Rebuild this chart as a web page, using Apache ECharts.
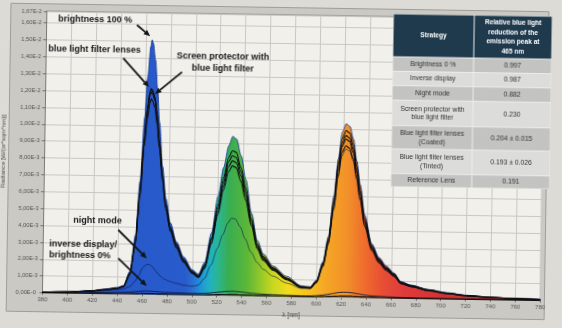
<!DOCTYPE html>
<html>
<head>
<meta charset="utf-8">
<script src="https://cdn.jsdelivr.net/npm/echarts@6/dist/echarts.min.js"></script>
<style>
  html, body { margin: 0; padding: 0; background: #dddbd6; overflow: hidden; }
  #chart { width: 562px; height: 328px; transform: rotate(0.9deg); transform-origin: 50% 50%; }
</style>
</head>
<body>
<div id="chart"></div>
<script>
// Wavelength grid, nm
const wavelengths = [380,400,420,430,440,445,450,454,457,460,462,464,465,466,468,470,472,475,478,482,487,493,500,505,510,515,520,524,528,531,534,538,542,547,552,557,565,576,588,595,600,605,609,613,616,619,622,625,628,631,634,638,644,650,656,662,668,676,690,705,720,740,760,780];

// Spectral radiance, in 1E-3 W/(sr*sqm*nm)
const brightness100 = [0.05,0.08,0.18,0.28,0.38,0.5,1.35,3.5,6.7,10.5,12.9,14.7,15.1,14.9,13.9,12.2,10.2,7.6,5.7,4.25,3.15,2.25,1.5,1.25,1.95,3.7,5.9,7.6,8.9,9.45,9.3,8.3,6.9,4.9,3.3,2.5,1.8,1.2,0.65,0.6,1.0,2.1,3.6,6.0,8.2,9.8,10.3,10.15,9.4,8.1,6.7,4.9,3.2,2.4,1.9,1.5,1.0,0.8,0.55,0.38,0.25,0.15,0.1,0.07];
const referenceLens = [0.045,0.07,0.16,0.25,0.35,0.46,1.25,3.2,6.1,9.3,11.0,12.0,12.2,12.1,11.7,10.7,9.2,7.1,5.4,4.0,3.0,2.1,1.4,1.15,1.8,3.4,5.4,7.0,8.2,8.6,8.5,7.6,6.4,4.6,3.1,2.35,1.7,1.1,0.6,0.56,0.95,2.0,3.45,5.8,7.9,9.4,9.9,9.75,9.05,7.8,6.45,4.7,3.1,2.3,1.8,1.45,0.95,0.77,0.53,0.36,0.24,0.14,0.1,0.07];
const lensesTinted = [0.04,0.065,0.15,0.24,0.34,0.45,1.2,3.1,6.0,9.2,11.0,12.0,12.2,12.05,11.6,10.5,9.0,6.9,5.2,3.85,2.85,2.0,1.32,1.07,1.65,3.15,5.0,6.5,7.65,8.0,7.9,7.1,5.95,4.3,2.9,2.2,1.6,1.05,0.57,0.53,0.9,1.9,3.3,5.5,7.5,8.95,9.4,9.25,8.6,7.4,6.1,4.45,2.95,2.2,1.72,1.38,0.9,0.73,0.5,0.34,0.23,0.13,0.09,0.06];
const lensesCoated = [0.045,0.07,0.16,0.25,0.34,0.45,1.2,3.1,5.95,9.1,10.8,11.8,12.0,11.9,11.5,10.5,9.05,7.0,5.3,3.9,2.95,2.05,1.37,1.1,1.72,3.3,5.2,6.75,7.95,8.3,8.2,7.35,6.15,4.45,3.0,2.28,1.65,1.08,0.58,0.55,0.92,1.95,3.35,5.6,7.7,9.15,9.6,9.45,8.8,7.55,6.25,4.55,3.0,2.25,1.76,1.41,0.92,0.75,0.52,0.35,0.23,0.14,0.09,0.06];
const screenProtector = [0.04,0.065,0.15,0.23,0.32,0.43,1.15,3.0,5.7,8.8,10.4,11.35,11.6,11.5,11.1,10.1,8.7,6.7,5.05,3.75,2.8,1.95,1.3,1.05,1.6,3.05,4.8,6.25,7.35,7.7,7.6,6.8,5.7,4.15,2.8,2.12,1.55,1.0,0.55,0.51,0.86,1.82,3.15,5.3,7.2,8.6,9.0,8.85,8.25,7.1,5.85,4.25,2.85,2.1,1.65,1.32,0.87,0.7,0.48,0.33,0.22,0.13,0.09,0.06];
const nightMode = [0.03,0.05,0.12,0.18,0.25,0.3,0.45,0.75,1.1,1.55,1.72,1.78,1.78,1.76,1.64,1.46,1.27,1.06,0.91,0.79,0.69,0.59,0.52,0.6,1.0,1.8,2.8,3.6,4.3,4.6,4.55,4.1,3.4,2.6,2.0,1.6,1.2,0.8,0.5,0.5,0.85,1.85,3.2,5.2,7.1,8.4,8.8,8.7,8.1,7.0,5.8,4.3,2.8,2.1,1.7,1.3,0.9,0.7,0.48,0.33,0.22,0.13,0.09,0.06];
const inverseDisplay = [0.01,0.02,0.04,0.06,0.08,0.1,0.12,0.15,0.17,0.19,0.2,0.2,0.2,0.2,0.19,0.18,0.17,0.15,0.14,0.13,0.12,0.11,0.1,0.1,0.12,0.15,0.19,0.22,0.25,0.26,0.26,0.24,0.21,0.17,0.14,0.12,0.1,0.08,0.06,0.06,0.08,0.12,0.17,0.22,0.27,0.3,0.31,0.31,0.29,0.26,0.22,0.17,0.12,0.1,0.08,0.07,0.05,0.04,0.03,0.02,0.02,0.01,0.01,0.01];
const brightness0 = [0.01,0.01,0.02,0.02,0.03,0.03,0.03,0.04,0.04,0.05,0.05,0.05,0.05,0.05,0.05,0.05,0.04,0.04,0.04,0.03,0.03,0.03,0.03,0.03,0.03,0.04,0.05,0.06,0.06,0.07,0.07,0.06,0.05,0.05,0.04,0.04,0.03,0.03,0.02,0.02,0.03,0.04,0.05,0.06,0.07,0.08,0.08,0.08,0.08,0.07,0.06,0.05,0.04,0.03,0.03,0.02,0.02,0.02,0.01,0.01,0.01,0.01,0.01,0.01];

// Axis ranges
const xRange = [380, 780, 20];
const yRange = [0, 16.7, 1];

// Summary table
const tableHeader = ['Strategy', 'Relative blue light\nreduction of the\nemission peak at\n465 nm'];
const strategies = ['Brightness 0 %', 'Inverse display', 'Night mode', 'Screen protector with\nblue light filter', 'Blue light filter lenses\n(Coated)', 'Blue light filter lenses\n(Tinted)', 'Reference Lens'];
const reductions = ['0.997', '0.987', '0.882', '0.230', '0.204 \u00b1 0.015', '0.193 \u00b1 0.026', '0.191'];

// Callout labels
const callouts = ['brightness 100 %', 'blue light filter lenses', 'Screen protector with\nblue light filter', 'night mode', 'inverse display/\nbrightness 0%'];

const FONT = '"Liberation Sans", Arial, sans-serif';
const pts = arr => wavelengths.map((w, i) => [w, arr[i]]);

// visible-spectrum colour ramp for the fill under the full-brightness curve
const spectrum = [[380,'#2455c7'],[494,'#285bcb'],[501,'#2a70d4'],[507,'#2094d6'],[514,'#1fb2c3'],[521,'#2bb58f'],[529,'#38ad52'],[544,'#5cb737'],[555,'#93c82a'],[565,'#c8d71f'],[577,'#f1db1d'],[592,'#f7c41f'],[607,'#f5a725'],[624,'#f29029'],[639,'#ee6b2d'],[654,'#e74d35'],[670,'#de3c3b'],[700,'#d43333'],[780,'#c92b2b']];
const fill = new echarts.graphic.LinearGradient(0, 0, 1, 0,
  spectrum.map(([nm, c]) => ({ offset: (nm - 380) / 400, color: c })));

function fmtY(v) {
  const r = Math.round(v * 100) / 100;
  if (r === 0) return '0,00E-0 ';
  if (r >= 10) return (r / 10).toFixed(2).replace('.', ',') + 'E-2';
  return r.toFixed(2).replace('.', ',') + 'E-3';
}

const lineSeries = (name, arr, color, width, z) => ({
  type: 'line', name, data: pts(arr), smooth: 0.3, smoothMonotone: 'x',
  symbol: 'none', silent: true, z,
  lineStyle: { color, width }
});

// ---- overlay: table, callouts, arrows ----
const overlay = [];
// panel behind the plot
overlay.push({ type: 'rect', z: -10, shape: { x: 8.5, y: 7.5, width: 538, height: 308 },
  style: { fill: '#cbc9c3', stroke: '#9f9d98', lineWidth: 1 } });

const TX = [391, 472, 550];
const TY = [12, 55, 69.4, 83.7, 98.2, 123.7, 147, 171.7, 185];
overlay.push({ type: 'rect', z: 100, shape: { x: TX[0], y: TY[0], width: TX[2] - TX[0], height: TY[8] - TY[0] },
  style: { fill: '#ececea' } });
for (let r = 0; r < 8; r++) {
  for (let c = 0; c < 2; c++) {
    const x = TX[c] + 0.5, y = TY[r] + 0.5, w = TX[c + 1] - TX[c] - 1, h = TY[r + 1] - TY[r] - 1;
    const bg = r === 0 ? '#1f3a4d' : (r % 2 === 1 ? '#c3c3c1' : '#dcdcda');
    overlay.push({ type: 'rect', z: 101, shape: { x, y, width: w, height: h }, style: { fill: bg } });
    const txt = r === 0 ? tableHeader[c] : (c === 0 ? strategies[r - 1] : reductions[r - 1]);
    overlay.push({ type: 'text', z: 102, x: x + w / 2, y: y + h / 2,
      style: { text: txt, align: 'center', verticalAlign: 'middle', textAlign: 'center', textVerticalAlign: 'middle',
        fontFamily: FONT, fontSize: r === 0 ? 6.6 : 6.8, fontWeight: r === 0 ? 'bold' : 'normal',
        lineHeight: r === 0 ? 9.6 : 8.6, fill: r === 0 ? '#ffffff' : '#333333' } });
  }
}

const calloutPos = [
  { x: 56, y: 22.9, align: 'left', lh: 11 },
  { x: 46.5, y: 53, align: 'left', lh: 11 },
  { x: 221.3, y: 63.4, align: 'center', lh: 11.6 },
  { x: 74.2, y: 223.8, align: 'left', lh: 11 },
  { x: 50.6, y: 253.1, align: 'left', lh: 11 }
];
callouts.forEach((t, i) => {
  const p = calloutPos[i];
  overlay.push({ type: 'text', z: 110, x: p.x, y: p.y,
    style: { text: t, align: p.align, verticalAlign: 'middle', textAlign: p.align, textVerticalAlign: 'middle',
      fontFamily: FONT, fontSize: 9, fontWeight: 'bold', lineHeight: p.lh, fill: '#161616' } });
});

function arrow(x1, y1, x2, y2) {
  const a = Math.atan2(y2 - y1, x2 - x1), L = 6.5, W = 2.8;
  const bx = x2 - L * Math.cos(a), by = y2 - L * Math.sin(a);
  overlay.push({ type: 'line', z: 110, shape: { x1, y1, x2: bx, y2: by }, style: { stroke: '#141414', lineWidth: 1.8 } });
  overlay.push({ type: 'polygon', z: 110, shape: { points: [[x2, y2],
    [bx - W * Math.sin(a), by + W * Math.cos(a)], [bx + W * Math.sin(a), by - W * Math.cos(a)]] },
    style: { fill: '#141414' } });
}
arrow(134.8, 27.3, 148.2, 38.3);
arrow(121.6, 60.6, 147.8, 89.1);
arrow(180.6, 73.6, 153.9, 96);
arrow(119.3, 232.5, 148.2, 260.4);
arrow(119.8, 260.9, 148.6, 288.1);

const chart = echarts.init(document.getElementById('chart'), null, { renderer: 'canvas' });
chart.setOption({
  animation: false,
  backgroundColor: '#dddbd6',
  grid: { left: 44.5, right: 19.7, top: 14.9, bottom: 31.5, show: true,
    backgroundColor: '#f1f0eb', borderColor: '#8d8d8a', borderWidth: 1, outerBoundsMode: 'none' },
  xAxis: {
    type: 'value', min: xRange[0], max: xRange[1], interval: xRange[2],
    axisLine: { show: true, onZero: false, lineStyle: { color: '#7a7a78', width: 1 } },
    axisTick: { show: true, length: 2, lineStyle: { color: '#6a6a68' } },
    axisLabel: { fontSize: 6, color: '#555', margin: 4, fontFamily: FONT },
    splitLine: { show: true, lineStyle: { color: '#c8c8c5', width: 1 } },
    name: '\u03bb [nm]', nameLocation: 'middle', nameGap: 14,
    nameTextStyle: { fontSize: 6.5, color: '#444', fontFamily: FONT }
  },
  yAxis: {
    type: 'value', min: yRange[0], max: yRange[1], interval: yRange[2],
    axisLine: { show: true, lineStyle: { color: '#7a7a78', width: 1 } },
    axisTick: { show: true, length: 3, lineStyle: { color: '#6a6a68' } },
    axisLabel: { fontSize: 5.8, color: '#555', margin: 5, fontFamily: FONT, formatter: fmtY, showMaxLabel: true },
    splitLine: { show: true, lineStyle: { color: '#c8c8c5', width: 1 } },
    name: 'Radiance [W/(sr*sqm*nm)]', nameLocation: 'middle', nameGap: 34, nameRotate: 90,
    nameTextStyle: { fontSize: 6.2, color: '#444', fontFamily: FONT }
  },
  series: [
    Object.assign(lineSeries('Brightness 100 %', brightness100, '#1b3c94', 0.9, 2),
      { areaStyle: { color: fill, opacity: 1 } }),
    lineSeries('Night mode', nightMode, 'rgba(10,25,70,0.75)', 0.8, 3),
    lineSeries('Inverse display', inverseDisplay, '#10183a', 0.9, 3),
    lineSeries('Brightness 0 %', brightness0, '#111', 1.2, 3),
    lineSeries('Screen protector with blue light filter', screenProtector, '#111', 1.1, 4),
    lineSeries('Blue light filter lenses (Coated)', lensesCoated, '#111', 1.1, 4),
    lineSeries('Blue light filter lenses (Tinted)', lensesTinted, '#111', 1.1, 4),
    lineSeries('Reference Lens', referenceLens, '#111', 1.1, 4)
  ],
  graphic: { elements: overlay }
});
</script>
</body>
</html>
